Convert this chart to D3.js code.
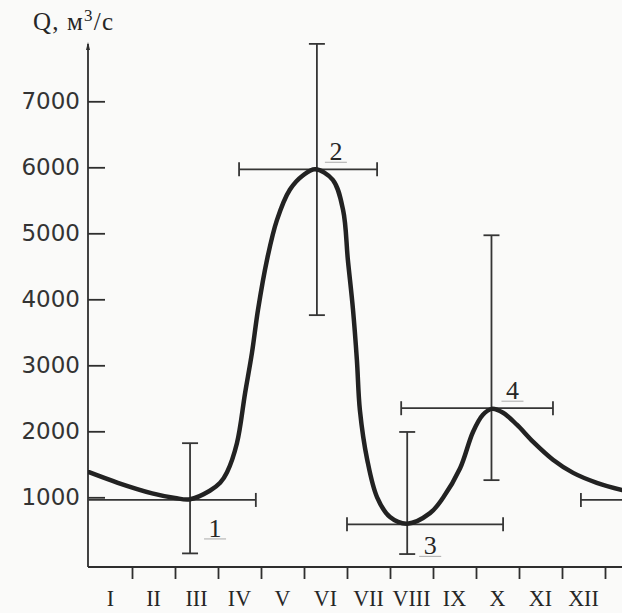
<!DOCTYPE html>
<html><head><meta charset="utf-8">
<script src="https://cdn.jsdelivr.net/npm/d3@7"></script>
<style>
html,body{margin:0;padding:0;background:#fafaf9;}
svg{display:block;}
</style></head>
<body>
<svg id="chart" width="622" height="613"></svg>
<script>
// ---- data ----
const months = ["I","II","III","IV","V","VI","VII","VIII","IX","X","XI","XII"];
const yTicks = [1000,2000,3000,4000,5000,6000,7000];
// mean hydrograph (month position, discharge m3/s)
const flowMonth = [0, 0.67, 1.47, 2.0, 2.35, 2.81, 3.05, 3.21, 3.44, 3.63, 3.79, 3.93, 4.14, 4.37, 4.67, 4.98, 5.26, 5.67, 5.91, 6.02, 6.14, 6.23, 6.30, 6.47, 6.70, 7.0, 7.40, 7.93, 8.23, 8.63, 8.93, 9.16, 9.37, 9.63, 9.95, 10.33, 10.79, 11.26, 11.81, 12.40];
const flowQ     = [1380, 1220, 1060, 990, 970, 1100, 1220, 1380, 1820, 2580, 3190, 3840, 4600, 5200, 5660, 5880, 5970, 5810, 5350, 4600, 3840, 3080, 2320, 1570, 1000, 700, 600, 760, 990, 1440, 1990, 2250, 2340, 2280, 2100, 1840, 1570, 1370, 1220, 1110];
// characteristic points with ranges
const barId        = ["1","2","3","4"];
const barMonth     = [2.35, 5.30, 7.40, 9.36];
const barQ         = [960, 5970, 590, 2350];
const barQLow      = [150, 3760, 140, 1260];
const barQHigh     = [1820, 7870, 1990, 4970];
const barMonthLow  = [-0.56, 3.49, 6.0, 7.26];
const barMonthHigh = [3.88, 6.70, 9.63, 10.79];

// ---- layout ----
const labelOffset = [[25,37],[19,-9],[23,30],[21,-9]];
const svg = d3.select("#chart");
const x = d3.scaleLinear().domain([0,12]).range([89,605]);
const y = d3.scaleLinear().domain([0,7000]).range([563.3,101.3]);
const axisX = 88, baseY = 567;
const ink = "#2e2e2e";

svg.append("defs").append("clipPath").attr("id","plot")
  .append("rect").attr("x",axisX).attr("y",0).attr("width",622-axisX).attr("height",baseY);

// y axis
const gy = svg.append("g").attr("transform",`translate(${axisX},0)`)
  .call(d3.axisLeft(y).tickValues(yTicks).tickSize(-17).tickSizeOuter(0).tickPadding(8).tickFormat(d3.format("d")));
gy.select(".domain").remove();
gy.selectAll(".tick line").attr("stroke",ink).attr("stroke-width",1.8);
gy.selectAll(".tick text").attr("font-family","DejaVu Sans, sans-serif").attr("font-size",23).attr("fill","#333");
svg.append("line").attr("x1",axisX).attr("x2",axisX).attr("y1",baseY).attr("y2",44)
  .attr("stroke",ink).attr("stroke-width",1.8);
svg.append("path").attr("d",`M${axisX-2},50 L${axisX},42 L${axisX+2},50 Z`).attr("fill",ink);

// x axis
const gx = svg.append("g").attr("transform",`translate(0,${baseY})`)
  .call(d3.axisBottom(x).tickValues(d3.range(1,13)).tickSize(12).tickSizeOuter(0).tickFormat(""));
gx.select(".domain").remove();
gx.selectAll(".tick line").attr("stroke",ink).attr("stroke-width",1.8);
svg.append("line").attr("x1",axisX).attr("x2",622).attr("y1",baseY).attr("y2",baseY)
  .attr("stroke",ink).attr("stroke-width",1.8);
svg.append("g").selectAll("text").data(months).join("text")
  .attr("transform",(d,i)=>`translate(${x(i+0.5)},606) scale(0.92,1)`)
  .attr("text-anchor","middle")
  .attr("font-family","Liberation Serif, serif").attr("font-size",24).attr("fill","#262626")
  .text(d=>d);

// title
const t = svg.append("text").attr("x",33).attr("y",30)
  .attr("font-family","Liberation Serif, serif").attr("font-size",25).attr("fill","#262626")
  .attr("textLength",80).attr("lengthAdjust","spacing");
t.append("tspan").text("Q, м");
t.append("tspan").attr("font-size",17).attr("dy",-9).text("3");
t.append("tspan").attr("dy",9).text("/с");

// error bars
const plot = svg.append("g").attr("clip-path","url(#plot)");
const bars = barId.map((id,i)=>({id,i}));
const cap = 8;
const eb = plot.append("g").attr("stroke","#353535").attr("stroke-width",1.8).attr("fill","none");
bars.forEach(({i})=>{
  const cx = x(barMonth[i]), cy = y(barQ[i]);
  const y1 = y(barQHigh[i]), y2 = y(barQLow[i]);
  eb.append("line").attr("x1",cx).attr("x2",cx).attr("y1",y1).attr("y2",y2);
  eb.append("line").attr("x1",cx-cap).attr("x2",cx+cap).attr("y1",y1).attr("y2",y1);
  eb.append("line").attr("x1",cx-cap).attr("x2",cx+cap).attr("y1",y2).attr("y2",y2);
  [0,12].forEach(shift=>{
    const xl = x(barMonthLow[i]+shift), xr = x(barMonthHigh[i]+shift);
    eb.append("line").attr("x1",xl).attr("x2",xr).attr("y1",cy).attr("y2",cy);
    eb.append("line").attr("x1",xl).attr("x2",xl).attr("y1",cy-7).attr("y2",cy+7);
    eb.append("line").attr("x1",xr).attr("x2",xr).attr("y1",cy-7).attr("y2",cy+7);
  });
});

// hydrograph
const line = d3.line().x(d=>x(d[0])).y(d=>y(d[1])).curve(d3.curveCatmullRom.alpha(0.5));
plot.append("path").datum(flowMonth.map((m,i)=>[m,flowQ[i]]))
  .attr("d",line).attr("fill","none").attr("stroke","#222").attr("stroke-width",4.5)
  .attr("stroke-linejoin","round").attr("stroke-linecap","round");

// labels
bars.forEach(({id,i})=>{
  const lx = x(barMonth[i])+labelOffset[i][0], ly = y(barQ[i])+labelOffset[i][1];
  svg.append("text").attr("x",lx).attr("y",ly).attr("text-anchor","middle")
    .attr("font-family","Liberation Serif, serif").attr("font-size",26).attr("fill","#262626").text(id);
  svg.append("line").attr("x1",lx-11).attr("x2",lx+11).attr("y1",ly+2).attr("y2",ly+2)
    .attr("stroke","#aaa").attr("stroke-width",1);
});
</script>
</body></html>
